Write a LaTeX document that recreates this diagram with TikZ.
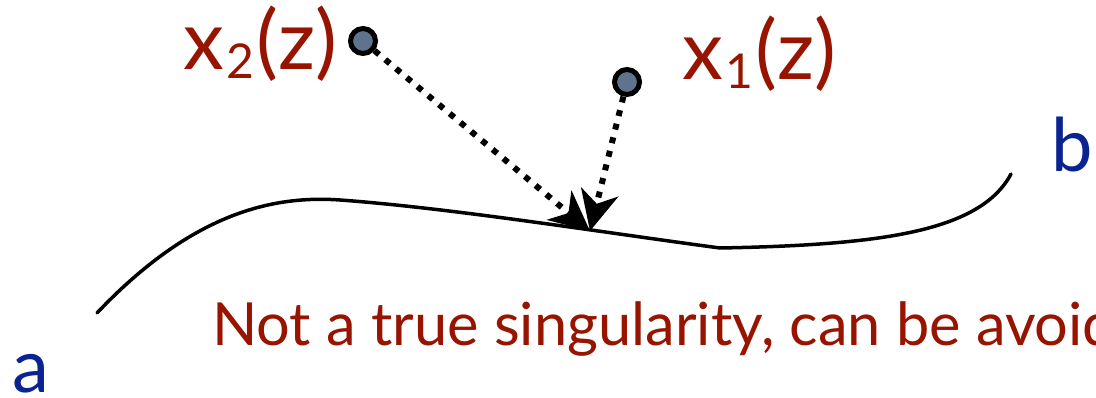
\documentclass[tikz,border=0pt]{standalone}
\usepackage{fontspec}
\setmainfont{Lato}
\usepackage{xcolor}
\usetikzlibrary{arrows.meta, positioning}

\definecolor{labred}{RGB}{150,20,0}
\definecolor{endblue}{RGB}{10,35,145}
\definecolor{ptgray}{RGB}{95,115,140}

\newcommand{\subnum}[1]{\kern2pt\raisebox{-0.1em}{\fontsize{48}{52}\selectfont #1}\kern3pt}

\tikzset{
  pt/.style={circle, draw=black, line width=5pt, fill=ptgray, minimum size=25pt, inner sep=0pt},
  path line/.style={line width=3.5pt, line cap=round},
  darrow/.style={line width=6pt, dash pattern=on 6pt off 8pt,
    -{Stealth[length=40pt, width=38pt, inset=12pt]}},
  lab/.style={anchor=base west, inner sep=0pt, text=labred, font=\fontsize{82}{88}\selectfont},
  endlab/.style={inner sep=0pt, text=endblue, font=\fontsize{74}{80}\selectfont},
}

\begin{document}
\begin{tikzpicture}[x=1pt, y=-1pt]
  \clip (0,0) rectangle (1096,398);
  \useasboundingbox (0,0) rectangle (1096,398);

  % the path from a to b
  \draw[path line] (97,313) .. controls (190,215) and (270,195) .. (340,200)
    .. controls (450,208) and (600,232) .. (720,248)
    .. controls (880,245) and (980,232) .. (1011,174);
  \coordinate (hit) at (590,231);

  % the two points
  \node[pt] (x2) at (363,41) {};
  \node[pt] (x1) at (627,82) {};
  \draw[darrow] (x2) -- (hit);
  \draw[darrow] (x1) -- (hit);

  % labels
  \node[lab] (x2lab) at (183,70) {x\subnum{2}(z)};
  \node[lab] (x1lab) at (682,80) {x\subnum{1}(z)};
  \node[endlab, anchor=base west] (a) at (12,392) {a};
  \node[endlab, anchor=base east] (b) at (1093,172) {b};
  \node[anchor=base west, inner sep=0pt, text=labred, font=\fontsize{59.5}{64}\selectfont] (note) at (212,345)
    {Not a true singularity, can be avoid};
\end{tikzpicture}
\end{document}
